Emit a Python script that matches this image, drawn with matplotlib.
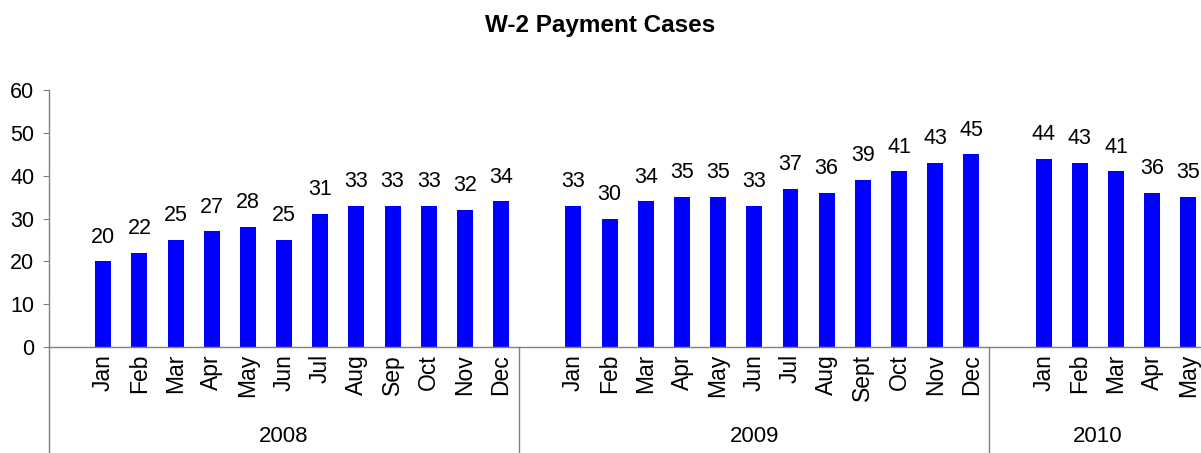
import matplotlib
matplotlib.use("Agg")
from matplotlib import pyplot as plt
import numpy as np

plt.rcParams['font.family'] = ['Liberation Sans', 'DejaVu Sans']

years = ['2008', '2009', '2010']
months_2008 = ['Jan', 'Feb', 'Mar', 'Apr', 'May', 'Jun', 'Jul', 'Aug', 'Sep', 'Oct', 'Nov', 'Dec']
months_2009 = ['Jan', 'Feb', 'Mar', 'Apr', 'May', 'Jun', 'Jul', 'Aug', 'Sept', 'Oct', 'Nov', 'Dec']
months_2010 = ['Jan', 'Feb', 'Mar', 'Apr', 'May']
cases_2008 = [20, 22, 25, 27, 28, 25, 31, 33, 33, 33, 32, 34]
cases_2009 = [33, 30, 34, 35, 35, 33, 37, 36, 39, 41, 43, 45]
cases_2010 = [44, 43, 41, 36, 35]

groups = [(years[0], months_2008, cases_2008),
          (years[1], months_2009, cases_2009),
          (years[2], months_2010, cases_2010)]

# each year gets one empty slot in front of its months
xs, vals, labels, year_spans = [], [], [], []
pos = 0
for year, months, cases in groups:
    start = pos
    pos += 1
    for m, c in zip(months, cases):
        xs.append(pos)
        vals.append(c)
        labels.append(m)
        pos += 1
    year_spans.append((year, start - 0.5, pos - 0.5))

fig = plt.figure(figsize=(12.01, 4.53), dpi=100)
ax = fig.add_axes([0.0408, 0.234, 0.9637, 0.5673])

ax.bar(xs, vals, width=0.44, color='#0000ff')
for x, v in zip(xs, vals):
    ax.annotate(str(v), (x, v), xytext=(0, 13.5), textcoords='offset points',
                ha='center', va='baseline', fontsize=15.5)

ax.set_xlim(-0.5, pos - 0.5)
ax.set_ylim(0, 60)
ax.set_yticks(np.arange(0, 61, 10))
ax.set_xticks(xs)
ax.set_xticklabels(labels, rotation=90, fontsize=16.5, va='top', ha='center')
ax.tick_params(axis='x', length=0, pad=5)
ax.tick_params(axis='y', direction='out', length=4.5, color='#808080', labelsize=15.5, pad=6)

for side in ['top', 'right']:
    ax.spines[side].set_visible(False)
for side in ['left', 'bottom']:
    ax.spines[side].set_color('#808080')
    ax.spines[side].set_linewidth(1.0)

# year group separators and labels under the month names
trans = ax.get_xaxis_transform()
for year, x0, x1 in year_spans:
    ax.plot([x0, x0], [0, -0.5], transform=trans, color='#808080', lw=1.0, clip_on=False)
    ax.text((x0 + x1) / 2, -0.37, year, transform=trans, ha='center', va='baseline', fontsize=16)

fig.text(0.5, 0.943, 'W-2 Payment Cases', ha='center', va='center', fontsize=17.5, fontweight='bold')

fig.savefig('out.png', dpi=100)
